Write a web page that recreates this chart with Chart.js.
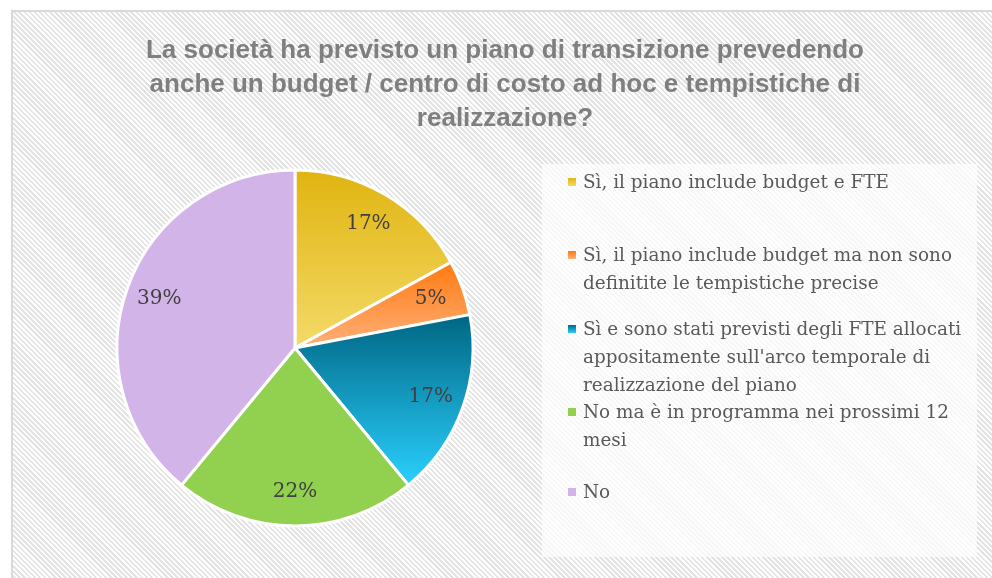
<!DOCTYPE html>
<html>
<head>
<meta charset="utf-8">
<script src="https://cdn.jsdelivr.net/npm/chart.js@4/dist/chart.umd.min.js"></script>
<style>
  html,body{margin:0;padding:0;background:#fff;width:992px;height:578px;overflow:hidden}
  #frame{position:absolute;left:11px;top:10px;width:990px;height:580px;box-sizing:border-box;
    border-left:2px solid #d9d9d9;border-top:2px solid #d9d9d9;
    background:repeating-linear-gradient(45deg,#fff 0 1.8px,#e3e3e3 1.8px 3.6px)}
  #pie{position:absolute;left:0;top:0}
  #title{position:absolute;left:92px;top:20px;width:800px;text-align:center;
    font:bold 26px "Liberation Sans",Arial,sans-serif;line-height:34px;color:#7f7f7f}
  #legend{position:absolute;left:529px;top:152px;width:435px;height:393px;background:rgba(255,255,255,.72)}
  .item{position:absolute;left:41px;font:18.4px "DejaVu Serif",serif;line-height:28px;color:#595959;white-space:nowrap}
  .mk{position:absolute;left:-15px;top:10px;width:8px;height:8px}
</style>
</head>
<body>
<div id="frame">
  <canvas id="pie" width="981" height="568"></canvas>
  <div id="title"></div>
  <div id="legend"></div>
</div>
<script>
'use strict';

const categories = [
  ['Sì, il piano include budget e FTE'],
  ['Sì, il piano include budget ma non sono', 'definitite le tempistiche precise'],
  ['Sì e sono stati previsti degli FTE allocati', "appositamente sull'arco temporale di", 'realizzazione del piano'],
  ['No ma è in programma nei prossimi 12', 'mesi'],
  ['No']
];
const shares = [17, 5, 17, 22, 39];
const titleLines = [
  'La società ha previsto un piano di transizione prevedendo',
  'anche un budget / centro di costo ad hoc e tempistiche di',
  'realizzazione?'
];

// top / bottom gradient colours per slice
const palette = [
  ['#e0b410','#f4da68'],
  ['#ff7a10','#ffb07a'],
  ['#006683','#2ad0ff'],
  ['#92d050'],
  ['#d3b4e8']
];
const legendTops = [156, 229, 303, 386, 466];
const RADIUS = 178;

document.getElementById('title').innerHTML = titleLines.join('<br>');

const lg = document.getElementById('legend');
lg.innerHTML = categories.map((lines,i)=>{
  const p = palette[i];
  const bg = p.length>1 ? `linear-gradient(${p[0]},${p[1]})` : p[0];
  return `<div class="item" style="top:${legendTops[i]-152}px"><span class="mk" style="background:${bg}"></span>${lines.join('<br>')}</div>`;
}).join('');

function sliceFill(c) {
  const p = palette[c.dataIndex];
  const area = c.chart.chartArea;
  if (p.length===1 || !area) return p[0];
  const cx=(area.left+area.right)/2, cy=(area.top+area.bottom)/2;
  const total = shares.reduce((a,v)=>a+v,0);
  const before = shares.slice(0,c.dataIndex).reduce((a,v)=>a+v,0);
  const a0 = -Math.PI/2 + before/total*2*Math.PI;
  const a1 = a0 + shares[c.dataIndex]/total*2*Math.PI;
  let ymin=cy, ymax=cy;
  for (let k=0;k<=60;k++){
    const y = cy + RADIUS*Math.sin(a0+(a1-a0)*k/60);
    ymin=Math.min(ymin,y); ymax=Math.max(ymax,y);
  }
  const g = c.chart.ctx.createLinearGradient(0,ymin,0,ymax);
  g.addColorStop(0,p[0]); g.addColorStop(1,p[1]);
  return g;
}

const sliceLabels = {
  id:'sliceLabels',
  afterDatasetsDraw(chart){
    const ctx = chart.ctx;
    const meta = chart.getDatasetMeta(0);
    ctx.save();
    ctx.font = '20px "DejaVu Serif", serif';
    ctx.fillStyle = '#404040';
    ctx.textAlign = 'center';
    ctx.textBaseline = 'middle';
    meta.data.forEach((arc,i)=>{
      const mid = (arc.startAngle+arc.endAngle)/2;
      const r = arc.outerRadius*0.81;
      ctx.fillText(shares[i]+'%', arc.x+Math.cos(mid)*r, arc.y+Math.sin(mid)*r);
    });
    ctx.restore();
  }
};

new Chart(document.getElementById('pie'),{
  type:'pie',
  data:{
    labels:categories.map(l=>l.join(' ')),
    datasets:[{data:shares,backgroundColor:sliceFill,borderColor:'#fff',borderWidth:3,radius:RADIUS}]
  },
  options:{
    responsive:false,animation:false,
    layout:{padding:{left:97,right:514,top:154,bottom:50}},
    plugins:{legend:{display:false},tooltip:{enabled:false},title:{display:false}}
  },
  plugins:[sliceLabels]
});
</script>
</body>
</html>
